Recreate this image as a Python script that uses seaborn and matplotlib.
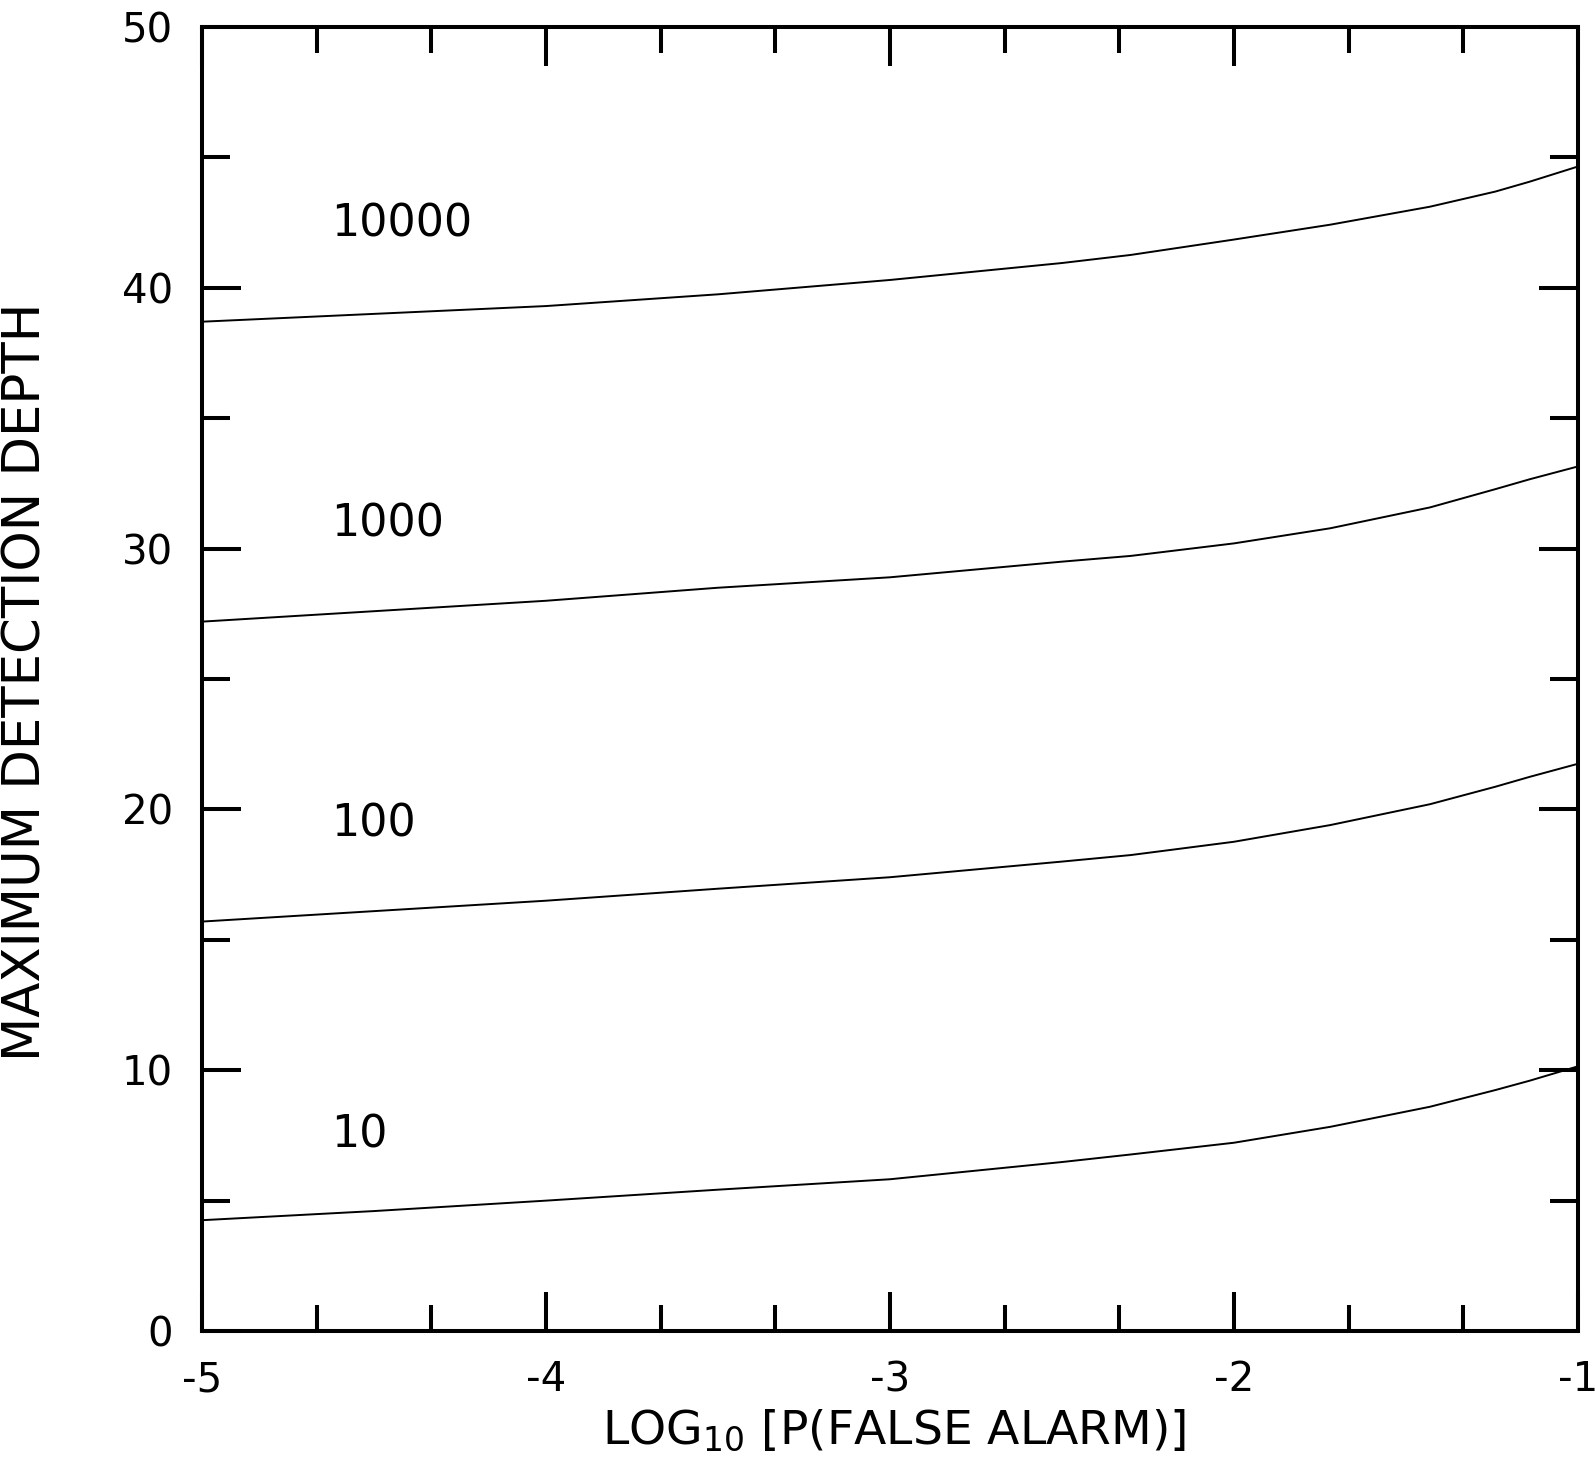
import numpy as np
import pandas as pd
import matplotlib
matplotlib.use("Agg")
import matplotlib.pyplot as plt
from matplotlib.ticker import MultipleLocator
import seaborn as sns

# log10 of false-alarm probability
log_pfa = [-5.0, -4.5, -4.0, -3.5, -3.0, -2.5, -2.3, -2.0, -1.72, -1.43, -1.24, -1.14, -1.0]

# maximum detection depth for each curve
depth_10 = [4.25, 4.6, 5.0, 5.42, 5.82, 6.48, 6.77, 7.22, 7.83, 8.60, 9.24, 9.60, 10.15]
depth_100 = [15.7, 16.1, 16.5, 16.96, 17.4, 18.0, 18.25, 18.76, 19.40, 20.2, 20.87, 21.25, 21.75]
depth_1000 = [27.2, 27.6, 28.0, 28.5, 28.9, 29.5, 29.72, 30.2, 30.78, 31.58, 32.28, 32.66, 33.15]
depth_10000 = [38.7, 39.0, 39.3, 39.75, 40.3, 40.95, 41.26, 41.85, 42.42, 43.11, 43.69, 44.07, 44.65]

curve_names = ["10", "100", "1000", "10000"]
curve_label_y = [7.5, 19.45, 30.95, 42.45]
curve_label_x = -4.625

xticks = [-5, -4, -3, -2, -1]
yticks = [0, 10, 20, 30, 40, 50]

frames = []
for name, vals in zip(curve_names, [depth_10, depth_100, depth_1000, depth_10000]):
    frames.append(pd.DataFrame({"logp": log_pfa, "depth": vals, "curve": name}))
df = pd.concat(frames, ignore_index=True)

sns.set_theme(style="ticks")
plt.rcParams["font.family"] = ["DejaVu Sans"]
plt.rcParams["mathtext.fontset"] = "dejavusans"
plt.rcParams["text.color"] = "black"
plt.rcParams["axes.labelcolor"] = "black"
plt.rcParams["xtick.color"] = "black"
plt.rcParams["ytick.color"] = "black"

fig = plt.figure(figsize=(15.95, 14.59), dpi=100)
ax = fig.add_axes([0.1266, 0.0877, 0.8627, 0.8938])

sns.lineplot(data=df, x="logp", y="depth", hue="curve", units="curve",
             estimator=None, palette=["black"] * 4, linewidth=1.4,
             legend=False, ax=ax)

for name, yv in zip(curve_names, curve_label_y):
    ax.text(curve_label_x, yv, name, fontsize=32, ha="left", va="center",
            color="black")

ax.set_xlim(-5, -1)
ax.set_ylim(0, 50)
ax.set_xticks(xticks)
ax.set_yticks(yticks)
ax.set_xticklabels([str(v) for v in xticks])
ax.set_yticklabels([str(v) for v in yticks])
ax.xaxis.set_minor_locator(MultipleLocator(1 / 3))
ax.yaxis.set_minor_locator(MultipleLocator(5))

for s in ax.spines.values():
    s.set_linewidth(2.9)
    s.set_color("black")

ax.tick_params(which="both", direction="in", top=True, right=True,
               color="black", width=2.9, labelcolor="black")
ax.tick_params(which="major", length=28, labelsize=29, pad=21)
ax.tick_params(which="minor", length=19)
ax.tick_params(axis="y", which="minor", length=20)

ax.set_xlabel(r"LOG$_{\mathregular{10}}$ [P(FALSE ALARM)]", fontsize=34,
              color="black")
ax.set_ylabel("MAXIMUM DETECTION DEPTH", fontsize=37, color="black")
ax.xaxis.set_label_coords(0.503, -0.059)
ax.yaxis.set_label_coords(-0.109, 0.498)

fig.savefig("out.png", dpi=100, facecolor="white")
